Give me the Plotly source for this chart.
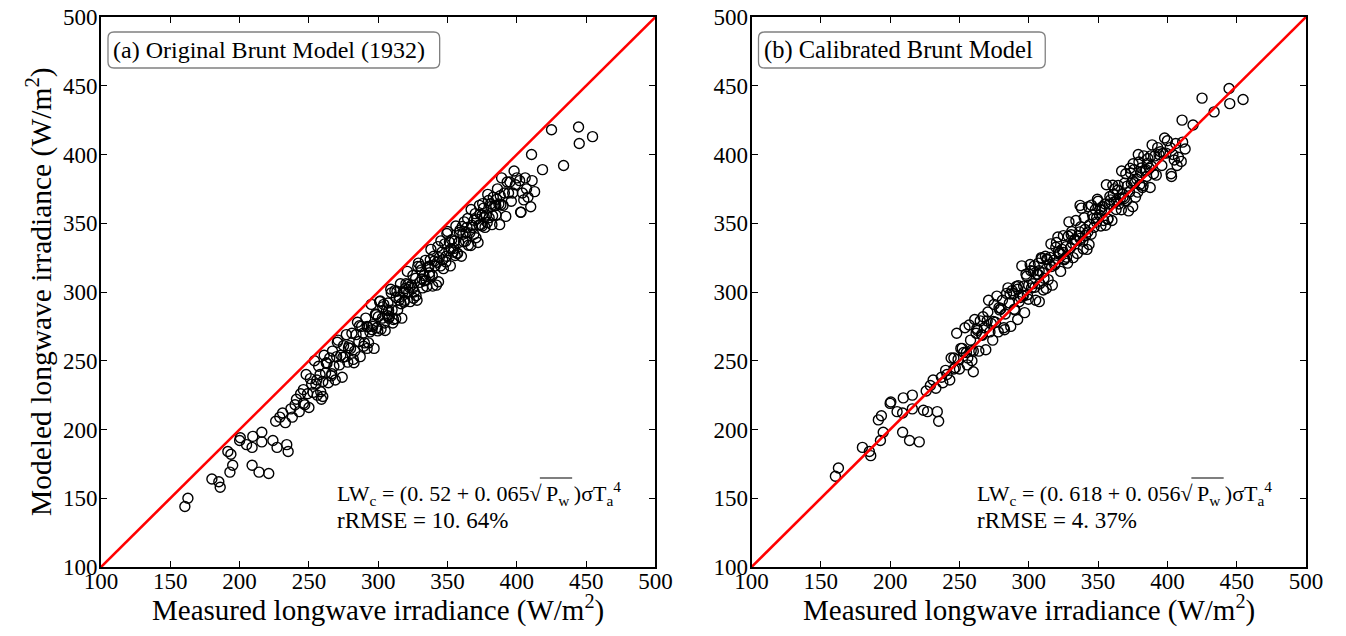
import plotly.graph_objects as go
from plotly.subplots import make_subplots

# measured longwave irradiance (W/m2), shared by both panels
measured = [
    160.5, 162.7, 180, 185, 186, 193, 195, 191.5, 193.7, 200, 200.5, 205, 209, 209.5, 216,
    209, 214, 221, 216, 224, 227, 234, 235, 229, 226, 231, 233, 237, 240, 238, 241, 243, 244, 246,
    246, 247, 248, 249, 250, 251, 252, 253, 254, 255, 256, 257, 258, 259, 260, 261, 262, 263, 264,
    265, 266, 267, 268, 269, 270, 271, 272, 273, 274, 275, 276, 277, 278, 279, 280, 281, 282, 283,
    284, 285, 286, 287, 288, 289, 290, 291, 292, 293, 294, 295, 296, 297, 298, 299, 300, 301, 302,
    303, 304, 305, 306, 307, 308, 309, 310, 311, 312, 313, 314, 315, 316, 317, 318, 319, 320, 321,
    322, 323, 324, 325, 326, 327, 328, 329, 330, 331, 332, 333, 334, 335, 336, 337, 338, 339, 340,
    341, 342, 343, 344, 345, 346, 347, 348, 349, 350, 351, 352, 353, 354, 355, 356, 357, 358, 359,
    360, 361, 362, 363, 364, 365, 366, 367, 368, 369, 370, 371, 372, 373, 374, 375, 376, 377, 378,
    379, 380, 381, 382, 383, 384, 385, 386, 387, 388, 389, 390, 391, 392, 393, 394, 395, 396, 397,
    398, 399, 400,
    258.5, 262.5, 266.5, 270.5, 274.5, 278.5, 282.5, 286.5, 289.5, 292.5, 295.5, 298.5, 301.5, 304.5,
    307.5, 310.5, 313.5, 316.5, 319.5, 322.5, 325.5, 328.5, 331.5, 334.5, 337.5, 340.5, 343.5, 346.5,
    349.5, 352.5, 355.5, 358.5, 361.5, 364.5, 367.5, 370.5, 373.5, 376.5, 379.5, 382.5, 385.5, 388.5,
    296.3, 299.7, 303.2, 306.8, 309.4, 312.6, 315.2, 318.7, 321.4, 324.8, 327.3, 330.6, 333.2, 336.7,
    339.3, 342.6, 345.2, 348.8, 351.3, 354.7, 357.2, 360.6, 363.3, 366.8, 369.2, 372.7, 375.3, 378.6,
    381.2, 384.8,
    402, 403, 404, 405, 406, 407, 408, 410, 411, 410.6, 412.8, 418.5, 425, 433.7, 444.5, 445, 454.6,
    255.7, 260, 292, 307.6, 337, 375, 387.6, 402.7]

# (a) original Brunt model (1932)
modeled_original = [
    144, 150, 164, 162, 158, 169, 174, 184, 182, 192, 194, 189, 187, 195, 198,
    174, 169, 168, 191, 192, 187, 189, 184, 209, 206, 212, 205, 215, 218, 209, 222, 213, 226, 219,
    229, 218, 240, 226, 216, 237, 233, 227, 250, 233, 225, 246, 240, 222, 235, 254, 241, 248, 234,
    252, 239, 257, 246, 236, 253, 265, 247, 254, 238, 261, 253, 269, 249, 261, 259, 270, 251, 257,
    269, 278, 264, 253, 275, 270, 263, 281, 275, 263, 271, 291, 275, 259, 284, 274, 282, 293, 273,
    281, 291, 272, 287, 292, 282, 302, 287, 280, 301, 296, 287, 294, 306, 281, 300, 294, 306, 315,
    300, 293, 305, 312, 300, 310, 294, 321, 307, 316, 303, 312, 323, 304, 318, 312, 331, 312, 326,
    319, 305, 333, 325, 319, 329, 317, 335, 326, 344, 330, 319, 338, 329, 337, 348, 328, 336, 345,
    326, 342, 351, 337, 347, 334, 343, 360, 347, 342, 357, 353, 336, 363, 349, 356, 361, 347, 356,
    371, 354, 364, 349, 369, 363, 356, 375, 364, 370, 383, 363, 372, 355, 380, 372, 380, 366, 372,
    388, 378, 383,
    227.5, 248.5, 240.5, 263.5, 252.5, 259.5, 248.5, 275.5, 260.5, 274.5, 272.5, 283.5, 293.5, 277.5,
    286.5, 277.5, 300.5, 291.5, 302.5, 303.5, 295.5, 318.5, 309.5, 308.5, 323.5, 322.5, 307.5, 323.5,
    342.5, 331.5, 326.5, 343.5, 336.5, 353.5, 348.5, 339.5, 356.5, 354.5, 366.5, 355.5, 367.5, 363.5,
    276.3, 271.7, 289.2, 282.8, 299.4, 280.6, 296.2, 292.7, 305.4, 302.8, 297.3, 318.6, 308.2, 318.7,
    304.3, 321.6, 337.2, 321.8, 336.3, 331.7, 328.2, 347.6, 343.3, 333.8, 352.2, 348.7, 364.3, 350.6,
    362.2, 362.8,
    381, 358, 372, 367, 383, 375, 369, 362, 381, 400, 373, 389, 418, 392, 420, 408, 413,
    236, 224, 259, 281, 314, 348, 349, 358]

# (b) calibrated Brunt model
modeled_calibrated = [
    166, 172, 187, 184, 181, 192, 198, 207, 210, 219, 220, 213, 212, 223, 225,
    198, 192, 191, 215, 214, 213, 213, 206, 232, 228, 236, 230, 238, 243, 234, 240, 236, 252, 244,
    252, 245, 270, 251, 244, 259, 259, 256, 274, 256, 252, 276, 265, 250, 257, 280, 270, 272, 257,
    279, 269, 282, 274, 258, 279, 294, 271, 277, 265, 291, 278, 297, 271, 287, 288, 294, 274, 284,
    299, 303, 292, 275, 301, 299, 287, 304, 302, 293, 296, 319, 297, 285, 313, 298, 305, 320, 303,
    306, 319, 294, 313, 321, 306, 325, 314, 310, 326, 324, 309, 320, 335, 305, 323, 321, 336, 340,
    328, 315, 331, 341, 324, 333, 321, 351, 332, 344, 325, 338, 352, 328, 341, 339, 361, 337, 354,
    341, 331, 362, 349, 342, 356, 347, 360, 354, 366, 356, 348, 362, 352, 364, 378, 353, 364, 367,
    352, 371, 375, 360, 374, 364, 368, 388, 369, 368, 386, 377, 359, 390, 379, 381, 389, 369, 382,
    400, 378, 387, 376, 399, 388, 384, 397, 390, 399, 407, 386, 399, 385, 405, 400, 402, 392, 401,
    412, 401, 410,
    257.5, 273.5, 268.5, 285.5, 278.5, 288.5, 272.5, 298.5, 287.5, 304.5, 297.5, 311.5, 315.5, 303.5,
    315.5, 301.5, 323.5, 318.5, 332.5, 328.5, 323.5, 340.5, 335.5, 337.5, 347.5, 345.5, 334.5, 353.5,
    367.5, 359.5, 348.5, 369.5, 365.5, 377.5, 371.5, 366.5, 386.5, 379.5, 394.5, 377.5, 393.5, 391.5,
    304.3, 294.7, 315.2, 312.8, 324.4, 302.6, 325.2, 319.7, 329.4, 328.8, 325.3, 341.6, 338.2, 343.7,
    331.3, 343.6, 363.2, 350.8, 360.3, 359.7, 353.2, 377.6, 366.3, 359.8, 379.2, 372.7, 393.3, 372.6,
    390.2, 388.8,
    405, 384, 400, 396, 408, 392, 398, 395, 409, 425, 404, 421.5, 441, 431, 448, 437, 440,
    247, 242, 280, 293, 363, 362, 376, 386]

axis_ticks = [100, 150, 200, 250, 300, 350, 400, 450, 500]
panel_titles = ["(a) Original Brunt Model (1932)", "(b) Calibrated Brunt Model"]
TS = "\u2009"  # thin space
equations = [
    f"LW<sub>c</sub> = (0. 52 + 0. 065√{TS}P<sub>w</sub>{TS})σT<sub>a</sub><sup>4</sup>",
    f"LW<sub>c</sub> = (0. 618 + 0. 056√{TS}P<sub>w</sub>{TS})σT<sub>a</sub><sup>4</sup>",
]
errors = ["rRMSE = 10. 64%", "rRMSE = 4. 37%"]
x_title = "Measured longwave irradiance (W/m<sup>2</sup>)"
y_title = "Modeled longwave irradiance (W/m<sup>2</sup>)"

FONT = "Liberation Serif"
EQ_SIZE = 22
ERR_SIZE = 23

# pixel geometry of each panel's plot area (for decorations only)
PX_PER_X = 555 / 400.0
PX_PER_Y = 550 / 400.0


def dx(px_from_left):
    return 100 + px_from_left / PX_PER_X


def dy(px_from_bottom):
    return 100 + px_from_bottom / PX_PER_Y


fig = make_subplots(rows=1, cols=2, horizontal_spacing=0.0797)

# em offsets (Liberation Serif) of the square-root overline inside each equation
overline_em = [(9.33, 10.80), (9.83, 11.30)]

for i, ys in enumerate([modeled_original, modeled_calibrated]):
    col = i + 1
    fig.add_trace(go.Scatter(
        x=measured, y=ys, mode="markers",
        marker=dict(symbol="circle-open", size=10, color="black", line=dict(width=1.4, color="black")),
        showlegend=False), row=1, col=col)
    fig.add_trace(go.Scatter(
        x=[axis_ticks[0], axis_ticks[-1]], y=[axis_ticks[0], axis_ticks[-1]], mode="lines",
        line=dict(color="#ff0000", width=2.6), showlegend=False), row=1, col=col)

    axcommon = dict(range=[100, 500], tickvals=axis_ticks, ticks="inside", ticklen=6, tickwidth=1,
                    tickcolor="black", showline=True, linecolor="black", linewidth=2, mirror="allticks",
                    showgrid=False, zeroline=False, automargin=False, ticklabeloverflow="allow",
                    tickfont=dict(family=FONT, size=23, color="black"))
    fig.update_xaxes(**axcommon, ticklabelstandoff=-8, row=1, col=col)
    fig.update_yaxes(**axcommon, ticklabelstandoff=-3, row=1, col=col)

    xref = "x" if col == 1 else "x2"
    yref = "y" if col == 1 else "y2"
    # x-axis title
    fig.add_annotation(x=0.5, y=0, xref=f"{xref} domain", yref=f"{yref} domain", text=x_title,
                       showarrow=False, xanchor="center", yanchor="middle", yshift=-41,
                       font=dict(family=FONT, size=29, color="black"))
    # rounded box for panel title
    x0 = dx(7)
    x1 = dx(339) if col == 1 else dx(294)
    y0, y1 = dy(499), dy(535)
    rx, ry = 6 / PX_PER_X, 6 / PX_PER_Y
    path = (f"M {x0+rx},{y1} L {x1-rx},{y1} Q {x1},{y1} {x1},{y1-ry} L {x1},{y0+ry} "
            f"Q {x1},{y0} {x1-rx},{y0} L {x0+rx},{y0} Q {x0},{y0} {x0},{y0+ry} "
            f"L {x0},{y1-ry} Q {x0},{y1} {x0+rx},{y1} Z")
    fig.add_shape(type="path", path=path, xref=xref, yref=yref,
                  line=dict(color="#808080", width=1.3), fillcolor="white", layer="above")
    fig.add_annotation(x=dx(10), y=(y0 + y1) / 2, xref=xref, yref=yref, text=panel_titles[i],
                       showarrow=False, xanchor="left", yanchor="middle",
                       font=dict(family=FONT, size=24.5 if col == 2 else 24, color="black"))
    tleft = 234 if col == 1 else 224
    fig.add_annotation(x=dx(tleft), y=dy(74), xref=xref, yref=yref, text=equations[i], showarrow=False,
                       xanchor="left", yanchor="middle", font=dict(family=FONT, size=EQ_SIZE, color="black"))
    fig.add_annotation(x=dx(tleft), y=dy(47), xref=xref, yref=yref, text=errors[i], showarrow=False,
                       xanchor="left", yanchor="middle", font=dict(family=FONT, size=ERR_SIZE, color="black"))
    e0, e1 = overline_em[i]
    fig.add_shape(type="line", xref=xref, yref=yref,
                  x0=dx(tleft + e0 * EQ_SIZE), x1=dx(tleft + e1 * EQ_SIZE),
                  y0=dy(89), y1=dy(89), line=dict(color="black", width=1.2), layer="above")

# y-axis title (left panel only)
fig.add_annotation(x=0, y=0.5, xref="x domain", yref="y domain", text=y_title, textangle=-90,
                   showarrow=False, xanchor="center", yanchor="middle", xshift=-62,
                   font=dict(family=FONT, size=29.5, color="black"))

# the page body adds an 8 px margin, so the figure is 16 px smaller than the window
fig.update_layout(width=1330, height=620, margin=dict(l=93, r=32, t=9, b=61),
                  font=dict(family=FONT, color="black"),
                  plot_bgcolor="white", paper_bgcolor="white", showlegend=False)

fig.write_html("out.html")
